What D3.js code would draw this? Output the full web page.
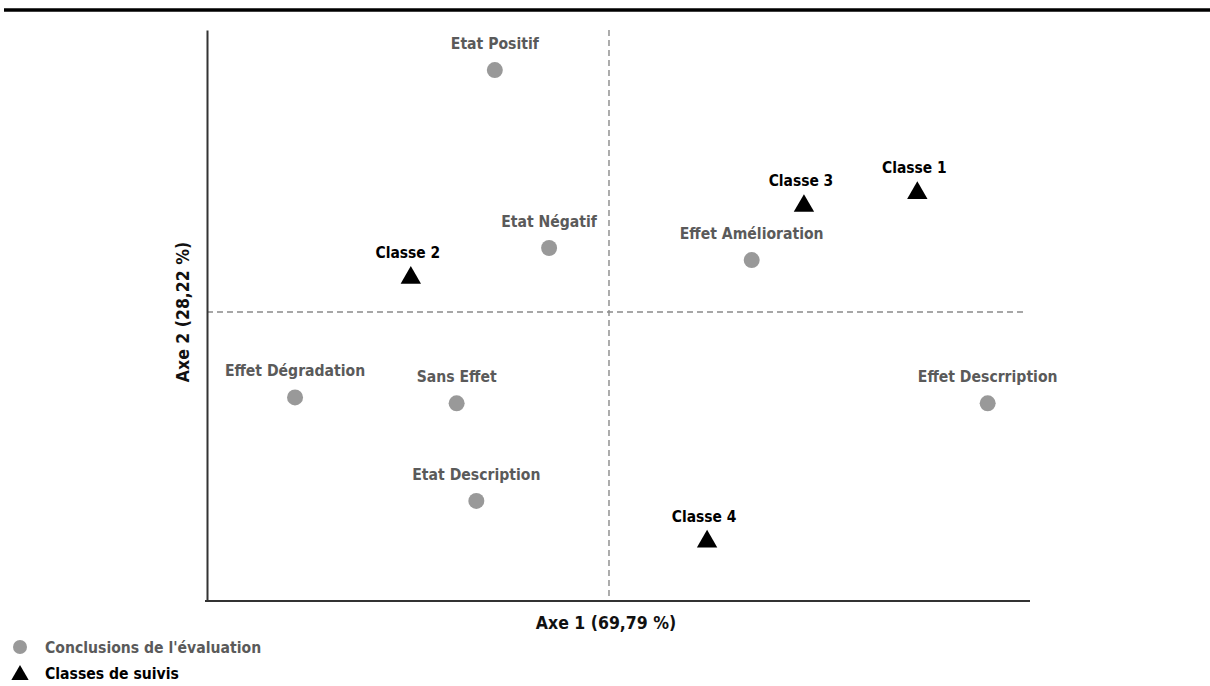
<!DOCTYPE html>
<html>
<head>
<meta charset="utf-8">
<script src="https://cdn.jsdelivr.net/npm/d3@7"></script>
<style>
  html, body { margin: 0; padding: 0; background: #fff; }
  svg text { font-family: "DejaVu Sans Condensed", "DejaVu Sans", sans-serif; }
</style>
</head>
<body>
<svg id="chart" width="1210" height="686"></svg>
<script>
// Conclusions de l'évaluation (gray circles)
const conclusionNames = ["Etat Positif", "Etat Négatif", "Effet Amélioration", "Effet Dégradation", "Sans Effet", "Effet Descrription", "Etat Description"];
const conclusionAxe1 = [-0.284, -0.149, 0.355, -0.781, -0.379, 0.942, -0.330];
const conclusionAxe2 = [0.858, 0.227, 0.184, -0.303, -0.324, -0.324, -0.670];

// Classes de suivis (black triangles)
const classNames = ["Classe 1", "Classe 2", "Classe 3", "Classe 4"];
const classAxe1 = [0.767, -0.493, 0.485, 0.244];
const classAxe2 = [0.422, 0.121, 0.376, -0.814];

const axisTitles = ["Axe 1 (69,79 %)", "Axe 2 (28,22 %)"];
const legendLabels = ["Conclusions de l'évaluation", "Classes de suivis"];

(function () {
const svg = d3.select("#chart");
const pLeft = 207, pRight = 1030, pTop = 30, pBottom = 601;

const x = d3.scaleLinear().domain([-1, 1.0473]).range([pLeft, pRight]);
const y = d3.scaleLinear().domain([-1.0248, 1]).range([pBottom, pTop]);

// top rule
svg.append("line").attr("x1", 4).attr("x2", 1210).attr("y1", 10).attr("y2", 10)
  .attr("stroke", "#000").attr("stroke-width", 3.5);

// dashed zero lines
svg.append("line").attr("x1", x(0)).attr("x2", x(0)).attr("y1", pTop).attr("y2", pBottom)
  .attr("stroke", "#8a8a8a").attr("stroke-width", 1.4).attr("stroke-dasharray", "6,4");
svg.append("line").attr("x1", pLeft).attr("x2", pRight - 3).attr("y1", y(0)).attr("y2", y(0))
  .attr("stroke", "#8a8a8a").attr("stroke-width", 1.4).attr("stroke-dasharray", "6,4");

// axes (no ticks)
const xAxis = svg.append("g").attr("transform", `translate(0,${pBottom})`)
  .call(d3.axisBottom(x).tickValues([]).tickSizeOuter(0));
const yAxis = svg.append("g").attr("transform", `translate(${pLeft},0)`)
  .call(d3.axisLeft(y).tickValues([]).tickSizeOuter(0));
[xAxis, yAxis].forEach(g => g.select(".domain").attr("stroke", "#333").attr("stroke-width", 2));
xAxis.select(".domain").attr("d", `M${pLeft - 2},0H${pRight}`);

// axis titles
svg.append("text").attr("x", 606).attr("y", 629).attr("text-anchor", "middle")
  .attr("font-size", 17.5).attr("font-weight", "bold").attr("fill", "#111").text(axisTitles[0]);
svg.append("text").attr("transform", `translate(189,${y(0)}) rotate(-90)`).attr("text-anchor", "middle")
  .attr("font-size", 17.5).attr("font-weight", "bold").attr("fill", "#111").text(axisTitles[1]);

// conclusions
const conclusions = conclusionNames.map((n, i) => ({ name: n, a1: conclusionAxe1[i], a2: conclusionAxe2[i] }));
const cg = svg.append("g");
cg.selectAll("circle").data(conclusions).join("circle")
  .attr("cx", d => x(d.a1)).attr("cy", d => y(d.a2)).attr("r", 8).attr("fill", "#999");
cg.selectAll("text").data(conclusions).join("text")
  .attr("x", d => x(d.a1)).attr("y", d => y(d.a2) - 21).attr("text-anchor", "middle")
  .attr("font-size", 15.6).attr("font-weight", "bold").attr("fill", "#5a5a5a").text(d => d.name);

// classes
const classes = classNames.map((n, i) => ({ name: n, a1: classAxe1[i], a2: classAxe2[i] }));
const tri = d3.symbol().type(d3.symbolTriangle).size(180);
const tg = svg.append("g");
tg.selectAll("path").data(classes).join("path")
  .attr("transform", d => `translate(${x(d.a1)},${y(d.a2)})`).attr("d", tri).attr("fill", "#000");
tg.selectAll("text").data(classes).join("text")
  .attr("x", d => x(d.a1) - 3).attr("y", d => y(d.a2) - 20).attr("text-anchor", "middle")
  .attr("font-size", 15.4).attr("font-weight", "bold").attr("fill", "#000").text(d => d.name);

// legend
const lg = svg.append("g");
lg.append("circle").attr("cx", 20).attr("cy", 647).attr("r", 7).attr("fill", "#999");
lg.append("text").attr("x", 45).attr("y", 653).attr("font-size", 15.6).attr("font-weight", 600)
  .attr("fill", "#5a5a5a").text(legendLabels[0]);
lg.append("path").attr("transform", "translate(20,675)").attr("d", d3.symbol().type(d3.symbolTriangle).size(130)).attr("fill", "#000");
lg.append("text").attr("x", 45).attr("y", 679).attr("font-size", 15.6).attr("font-weight", 600)
  .attr("fill", "#000").text(legendLabels[1]);
})();
</script>
</body>
</html>
